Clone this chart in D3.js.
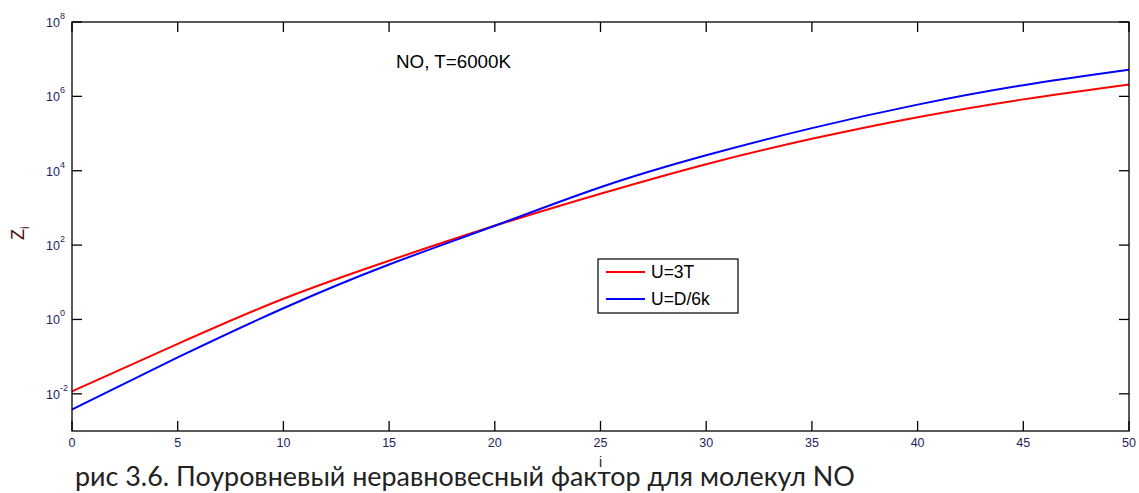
<!DOCTYPE html>
<html>
<head>
<meta charset="utf-8">
<script src="https://cdn.jsdelivr.net/npm/d3@7"></script>
<style>
  body { margin: 0; background: #fff; }
  svg { display: block; }
</style>
</head>
<body>
<svg id="chart" width="1139" height="493"></svg>
<script>
// level index i
const levels = [0, 5, 10, 15, 20, 25, 30, 35, 40, 45, 50];
// Z_i for U=3T (red)
const zU3T = [1.17e-2, 0.22, 3.6, 38, 330, 2.4e3, 1.5e4, 7.2e4, 2.75e5, 8.3e5, 2.1e6];
// Z_i for U=D/6k (blue)
const zUD6k = [3.8e-3, 0.095, 2.0, 30, 330, 3.6e3, 2.6e4, 1.4e5, 6.0e5, 2.0e6, 5.2e6];

const xTicks = [0, 5, 10, 15, 20, 25, 30, 35, 40, 45, 50];
const yTickExp = [-2, 0, 2, 4, 6, 8];

const seriesNames = ["U=3T", "U=D/6k"];
const seriesColors = ["#ff0000", "#0000ff"];
const title = "NO, T=6000K";
const caption = "рис 3.6. Поуровневый неравновесный фактор для молекул NO";

const svg = d3.select("#chart");
const plot = { left: 72, top: 22, right: 1129, bottom: 431 };

const x = d3.scaleLinear().domain([0, 50]).range([plot.left, plot.right]);
const y = d3.scaleLog().domain([1e-3, 1e8]).range([plot.bottom, plot.top]);

const tickFont = "'Liberation Sans', Arial, sans-serif";
const tickColor = "#241c5c";
const TICK = 10;

// series lines
const line = d3.line()
    .x(d => x(d[0]))
    .y(d => y(d[1]))
    .curve(d3.curveNatural);

[zU3T, zUD6k].forEach((vals, k) => {
    svg.append("path")
        .datum(levels.map((lv, j) => [lv, vals[j]]))
        .attr("d", line)
        .attr("fill", "none")
        .attr("stroke", seriesColors[k])
        .attr("stroke-width", 2);
});

// box + ticks on all sides (matlab style)
const axisG = svg.append("g").attr("stroke", "#000").attr("stroke-width", 1.3);
axisG.append("rect")
    .attr("x", plot.left).attr("y", plot.top)
    .attr("width", plot.right - plot.left)
    .attr("height", plot.bottom - plot.top)
    .attr("fill", "none");

xTicks.forEach(t => {
    axisG.append("line").attr("x1", x(t)).attr("x2", x(t))
        .attr("y1", plot.bottom).attr("y2", plot.bottom - TICK);
    axisG.append("line").attr("x1", x(t)).attr("x2", x(t))
        .attr("y1", plot.top).attr("y2", plot.top + TICK);
});
yTickExp.forEach(e => {
    const yy = y(Math.pow(10, e));
    axisG.append("line").attr("x1", plot.left).attr("x2", plot.left + TICK)
        .attr("y1", yy).attr("y2", yy);
    axisG.append("line").attr("x1", plot.right).attr("x2", plot.right - TICK)
        .attr("y1", yy).attr("y2", yy);
});

// x tick labels
svg.append("g").selectAll("text")
    .data(xTicks)
    .join("text")
    .attr("x", d => x(d))
    .attr("y", plot.bottom + 16)
    .attr("text-anchor", "middle")
    .attr("font-family", tickFont)
    .attr("font-size", 12.5)
    .attr("fill", tickColor)
    .text(d => d);

// y tick labels 10^n
const yLab = svg.append("g");
yTickExp.forEach(e => {
    const yy = y(Math.pow(10, e));
    yLab.append("text")
        .attr("x", plot.left - 12)
        .attr("y", yy + 5)
        .attr("text-anchor", "end")
        .attr("font-family", tickFont)
        .attr("font-size", 12.5)
        .attr("fill", tickColor)
        .text("10");
    yLab.append("text")
        .attr("x", plot.left - 12)
        .attr("y", yy - 3)
        .attr("font-family", tickFont)
        .attr("font-size", 9)
        .attr("fill", tickColor)
        .text(e);
});

// axis labels
svg.append("text")
    .attr("x", x(25))
    .attr("y", 467)
    .attr("text-anchor", "middle")
    .attr("font-family", tickFont)
    .attr("font-size", 14)
    .attr("fill", "#1a1a1a")
    .text("i");

const yl = svg.append("text")
    .attr("transform", "translate(24,240) rotate(-90)")
    .attr("font-family", tickFont)
    .attr("font-size", 18)
    .attr("fill", "#4a0c0c");
yl.append("tspan").text("Z");
yl.append("tspan").attr("font-size", 12).attr("dy", 5).text("i");

// title inside axes
svg.append("text")
    .attr("x", 396)
    .attr("y", 68)
    .attr("font-family", tickFont)
    .attr("font-size", 18.8)
    .attr("fill", "#000")
    .text(title);

// legend
const lg = svg.append("g").attr("transform", "translate(598,259)");
lg.append("rect")
    .attr("width", 140).attr("height", 54)
    .attr("fill", "#fff").attr("stroke", "#000").attr("stroke-width", 1.2);
seriesNames.forEach((nm, k) => {
    const ly = 13 + k * 27;
    lg.append("line")
        .attr("x1", 8).attr("x2", 47)
        .attr("y1", ly).attr("y2", ly)
        .attr("stroke", seriesColors[k]).attr("stroke-width", 2);
    lg.append("text")
        .attr("x", 53).attr("y", ly + 6)
        .attr("font-family", tickFont)
        .attr("font-size", 17.5)
        .attr("fill", "#000")
        .text(nm);
});

// figure caption
svg.append("text")
    .attr("x", 75)
    .attr("y", 486)
    .attr("font-family", "Lato, 'Open Sans', sans-serif")
    .attr("font-size", 26.9)
    .attr("fill", "#222")
    .text(caption);
</script>
</body>
</html>
